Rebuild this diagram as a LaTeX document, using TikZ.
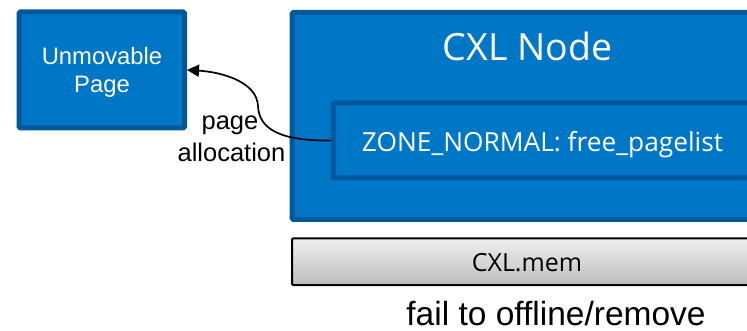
\documentclass[tikz,border=0pt]{standalone}
\usepackage{fontspec}
\setmainfont{Liberation Sans}
\newfontfamily\segoe{Open Sans}
\usetikzlibrary{arrows.meta}
\definecolor{bluefill}{RGB}{0,118,198}
\definecolor{blueline}{RGB}{0,88,155}
\tikzset{
  bluebox/.style={draw=blueline, fill=bluefill, line width=5, rounded corners=1.5, inner sep=0, minimum width=#1},
  whitetxt/.style={text=white, inner sep=0, anchor=base},
  blacktxt/.style={text=black, inner sep=0, anchor=base},
  conn/.style={line width=1.7, -{Triangle[length=12,width=12]}},
}
\begin{document}
\begin{tikzpicture}[x=1pt,y=-1pt]
\useasboundingbox (0,0) rectangle (747,331);
\clip (0,0) rectangle (747,331);
% boxes
\node[bluebox=165.5, minimum height=116] (unmov) at (101.75,70) {};
\node[bluebox=471, minimum height=207] (cxl) at (527.5,116) {};
\node[bluebox=419, minimum height=75] (zone) at (542.5,140.5) {};
\node[draw=black, line width=2, top color=black!6, bottom color=black!26, rounded corners=1, minimum width=470, minimum height=46.5, inner sep=0] (mem) at (527,261.75) {};
% texts
\node[whitetxt, font=\fontsize{23.8}{28}\selectfont] (t1) at (102,65) {Unmovable};
\node[whitetxt, font=\fontsize{23.8}{28}\selectfont] (t2) at (102,92.5) {Page};
\node[whitetxt, font=\segoe\fontsize{37.5}{42}\selectfont] (title) at (527.5,61) {CXL Node};
\node[whitetxt, font=\segoe\fontsize{26.3}{30}\selectfont] (zt) at (542.5,151.5) {ZONE\_NORMAL: free\_pagelist};
\node[blacktxt, font=\segoe\fontsize{25}{28}\selectfont] (mt) at (527,271.5) {CXL.mem};
\node[blacktxt, font=\fontsize{25.5}{30}\selectfont] (pa1) at (230,130) {page};
\node[blacktxt, font=\fontsize{25.5}{30}\selectfont] (pa2) at (231.5,162) {allocation};
\node[blacktxt, font=\fontsize{33.5}{38}\selectfont] (fail) at (556,325.5) {fail to offline/remove};
% connector
\draw[conn] (zone.west) .. controls (282,141) and (259,130) .. (258,106)
  .. controls (257,82) and (222,72) .. (unmov.east);
\end{tikzpicture}
\end{document}
